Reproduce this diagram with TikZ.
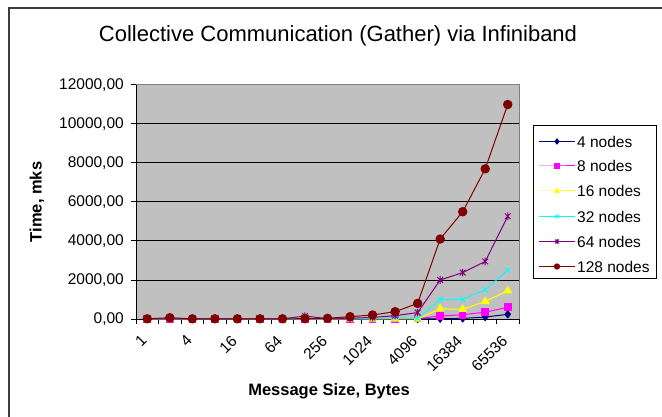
\documentclass[tikz,border=0pt]{standalone}
\usepackage{fontspec}
\setmainfont{Liberation Sans}
\usetikzlibrary{plotmarks}

\definecolor{areagray}{RGB}{192,192,192}
\definecolor{edgegray}{RGB}{128,128,128}
\definecolor{framegray}{RGB}{60,60,60}
\definecolor{cNavy}{RGB}{0,0,128}
\definecolor{cMagenta}{RGB}{255,0,255}
\definecolor{cYellow}{RGB}{255,255,0}
\definecolor{cCyan}{RGB}{0,255,255}
\definecolor{cPurple}{RGB}{128,0,128}
\definecolor{cDarkRed}{RGB}{128,0,0}

% x-shaped mark with a vertical bar through it
\pgfdeclareplotmark{xbar}{%
  \pgfpathmoveto{\pgfqpoint{-.75\pgfplotmarksize}{-.75\pgfplotmarksize}}%
  \pgfpathlineto{\pgfqpoint{.75\pgfplotmarksize}{.75\pgfplotmarksize}}%
  \pgfpathmoveto{\pgfqpoint{-.75\pgfplotmarksize}{.75\pgfplotmarksize}}%
  \pgfpathlineto{\pgfqpoint{.75\pgfplotmarksize}{-.75\pgfplotmarksize}}%
  \pgfpathmoveto{\pgfqpoint{0pt}{-\pgfplotmarksize}}%
  \pgfpathlineto{\pgfqpoint{0pt}{\pgfplotmarksize}}%
  \pgfusepathqstroke}

\tikzset{
  ticklabel/.style={font=\fontsize{15.5}{18}\selectfont, inner sep=0pt},
  legendlabel/.style={font=\fontsize{15.5}{18}\selectfont, inner sep=0pt, anchor=west},
  axistitle/.style={font=\fontsize{16.5}{20}\selectfont\bfseries, inner sep=0pt},
  charttitle/.style={font=\fontsize{22}{25}\selectfont, inner sep=0pt},
  ser/.style={line width=1pt, line join=round},
  sfour/.style={ser, draw=cNavy, mark=diamond*, mark size=3.6pt, mark options={fill=cNavy, draw=cNavy}},
  seight/.style={ser, draw=cMagenta, mark=square*, mark size=3.3pt, mark options={fill=cMagenta, draw=cMagenta}},
  ssixteen/.style={ser, draw=cYellow, mark=triangle*, mark size=4.2pt, mark options={fill=cYellow, draw=cYellow}},
  sthirtytwo/.style={ser, draw=cCyan, mark=x, mark size=3.6pt, mark options={draw=cCyan, line width=1pt}},
  ssixtyfour/.style={ser, draw=cPurple, mark=xbar, mark size=3.8pt, mark options={draw=cPurple, line width=1pt}},
  shundred/.style={ser, draw=cDarkRed, mark=*, mark size=4.2pt, mark options={fill=cDarkRed, draw=cDarkRed}},
  legsmall/.style={mark size=2.6pt, mark indices={2}},
}

\begin{document}
\begin{tikzpicture}[x=1pt, y=-1pt]
\useasboundingbox (0,0) rectangle (662,417);
\fill[white] (0,0) rectangle (662,417);

% outer chart frame (top and left edges)
\draw[framegray, line width=2pt] (8.5,417) -- (8.5,8.5) -- (662,8.5);

% title
\node[charttitle] (title) at (338,36) {Collective Communication (Gather) via Infiniband};

% plot area
\fill[areagray] (136,85) rectangle (519,319);
\draw[edgegray, line width=1pt] (136,85) -- (519,85) -- (519,319);

% horizontal gridlines
\foreach \i in {1,...,5}
  \draw[black, line width=1pt] (136,{319-39*\i}) -- (519,{319-39*\i});

% value axis with ticks and labels
\draw[black, line width=1pt] (136,85) -- (136,319);
\foreach \i in {0,...,6}{
  \pgfmathtruncatemacro\val{2000*\i}
  \draw[black, line width=1pt] (131,{319-39*\i}) -- (136,{319-39*\i});
  \node[ticklabel, anchor=east] (yl\i) at (124,{319-39*\i}) {\val,00};
}

% category axis with ticks and labels
\draw[black, line width=1pt] (131,319) -- (519,319);
\foreach \j in {0,...,17}
  \draw[black, line width=1pt] ({136+22.53*\j},319) -- ({136+22.53*\j},324);
\foreach \k/\lab in {0/1,2/4,4/16,6/64,8/256,10/1024,12/4096,14/16384,16/65536}
  \node[ticklabel, rotate=45, anchor=north east] (xl\k) at ({136+22.53*(\k+0.5)-7},334) {\lab};

% axis titles
\node[axistitle, rotate=90] (ytitle) at (37,202) {Time, mks};
\node[axistitle] (xtitle) at (329,391) {Message Size, Bytes};

% data series
\begin{scope}[shift={(147.27,319)}, x=22.53pt, y=0.0195pt]
\draw[sfour] plot coordinates {(0,5) (1,5) (2,5) (3,5) (4,5) (5,5) (6,5) (7,5) (8,5) (9,5) (10,5) (11,5) (12,5) (13,15) (14,30) (15,100) (16,240)};
\draw[seight] plot coordinates {(0,10) (1,10) (2,10) (3,10) (4,10) (5,10) (6,10) (7,10) (8,10) (9,10) (10,10) (11,15) (12,20) (13,150) (14,220) (15,350) (16,600)};
\draw[ssixteen] plot coordinates {(0,5) (1,5) (2,5) (3,5) (4,5) (5,5) (6,5) (7,5) (8,5) (9,5) (10,5) (11,5) (12,5) (13,520) (14,500) (15,900) (16,1450)};
\draw[sthirtytwo] plot coordinates {(0,8) (1,8) (2,8) (3,8) (4,8) (5,8) (6,8) (7,8) (8,10) (9,20) (10,40) (11,60) (12,40) (13,1000) (14,1000) (15,1500) (16,2500)};
\draw[ssixtyfour] plot coordinates {(0,10) (1,10) (2,10) (3,10) (4,10) (5,10) (6,10) (7,150) (8,20) (9,40) (10,80) (11,170) (12,330) (13,2000) (14,2380) (15,2950) (16,5270)};
\draw[shundred] plot coordinates {(0,10) (1,65) (2,10) (3,10) (4,10) (5,10) (6,10) (7,15) (8,35) (9,120) (10,205) (11,375) (12,800) (13,4100) (14,5500) (15,7700) (16,11000)};
\end{scope}

% legend
\draw[black, fill=white, line width=1pt] (533,126) rectangle (656,278);
\draw[sfour, legsmall] plot coordinates {(539,141.5) (557,141.5) (575,141.5)};
\node[legendlabel] (lg4) at (577,141.5) {4 nodes};
\draw[seight, legsmall] plot coordinates {(539,166) (557,166) (575,166)};
\node[legendlabel] (lg8) at (577,166) {8 nodes};
\draw[ssixteen, legsmall] plot coordinates {(539,191) (557,191) (575,191)};
\node[legendlabel] (lg16) at (577,191) {16 nodes};
\draw[sthirtytwo, legsmall] plot coordinates {(539,216.5) (557,216.5) (575,216.5)};
\node[legendlabel] (lg32) at (577,216.5) {32 nodes};
\draw[ssixtyfour, legsmall] plot coordinates {(539,241.5) (557,241.5) (575,241.5)};
\node[legendlabel] (lg64) at (577,241.5) {64 nodes};
\draw[shundred, legsmall] plot coordinates {(539,266.5) (557,266.5) (575,266.5)};
\node[legendlabel] (lg128) at (577,266.5) {128 nodes};
\end{tikzpicture}
\end{document}
